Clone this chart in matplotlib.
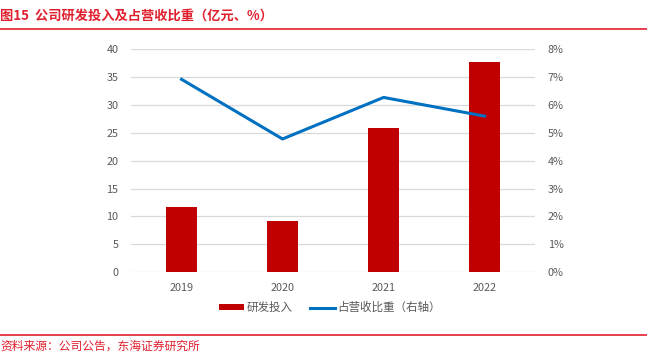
import matplotlib as mpl
mpl.use('agg')
import matplotlib.pyplot as plt
from matplotlib.lines import Line2D
from matplotlib.patches import Patch
import numpy as np

plt.rcParams['font.family'] = ['Noto Sans CJK SC', 'DejaVu Sans']

years = ['2019', '2020', '2021', '2022']
rd_spend = [11.7, 9.1, 25.8, 37.7]          # 亿元
rd_ratio = [6.92, 4.78, 6.27, 5.60]         # %

red = '#C00000'
blue = '#0070C0'
title_red = '#E0202E'
grid_c = '#D9D9D9'
tick_c = '#595959'

fig = plt.figure(figsize=(6.47, 3.54), dpi=100)
ax = fig.add_axes([0.2025, 0.231, 0.6245, 0.63])
x = np.arange(len(years))

ax.bar(x, rd_spend, width=0.31, color=red, zorder=3)
ax.set_ylim(0, 40)
ax.set_yticks(range(0, 41, 5))
ax.set_xlim(-0.5, 3.5)
ax.set_xticks(x)
ax.set_xticklabels(years)
ax.grid(axis='y', color=grid_c, linewidth=0.9, zorder=0)

ax2 = ax.twinx()
ax2.plot(x, rd_ratio, color=blue, linewidth=2.2, zorder=4)
ax2.set_ylim(0, 8)
ax2.set_yticks(range(0, 9))
ax2.set_yticklabels([f'{v}%' for v in range(0, 9)])

for a in [ax, ax2]:
    for s in a.spines.values():
        s.set_visible(False)
    a.tick_params(length=0, labelsize=7.8, colors=tick_c)
ax.tick_params(axis='y', pad=9)
ax.tick_params(axis='x', pad=8)
ax2.tick_params(axis='y', pad=9)

handles = [Patch(facecolor=red, edgecolor='none'),
           Line2D([0], [0], color=blue, linewidth=2.2)]
fig.legend(handles, ['研发投入', '占营收比重（右轴）'], loc='center',
           bbox_to_anchor=(0.51, 0.131), ncol=2, frameon=False,
           fontsize=8.3, labelcolor=tick_c, handlelength=2.2, handleheight=0.35,
           handletextpad=0.2, columnspacing=1.5)

# header / footer
fig.text(0.0, 0.957, '图15  公司研发投入及占营收比重（亿元、%）', color=title_red,
         fontsize=9.5, fontweight='bold', va='center', ha='left')
fig.add_artist(Line2D([0, 1], [0.918, 0.918], color=title_red, linewidth=1.2))
fig.add_artist(Line2D([0, 1], [0.053, 0.053], color=title_red, linewidth=1.2))
fig.text(0.0, 0.021, '资料来源：公司公告，东海证券研究所', color=title_red,
         fontsize=8.5, va='center', ha='left')

fig.savefig('out.png', dpi=100, facecolor='white')
